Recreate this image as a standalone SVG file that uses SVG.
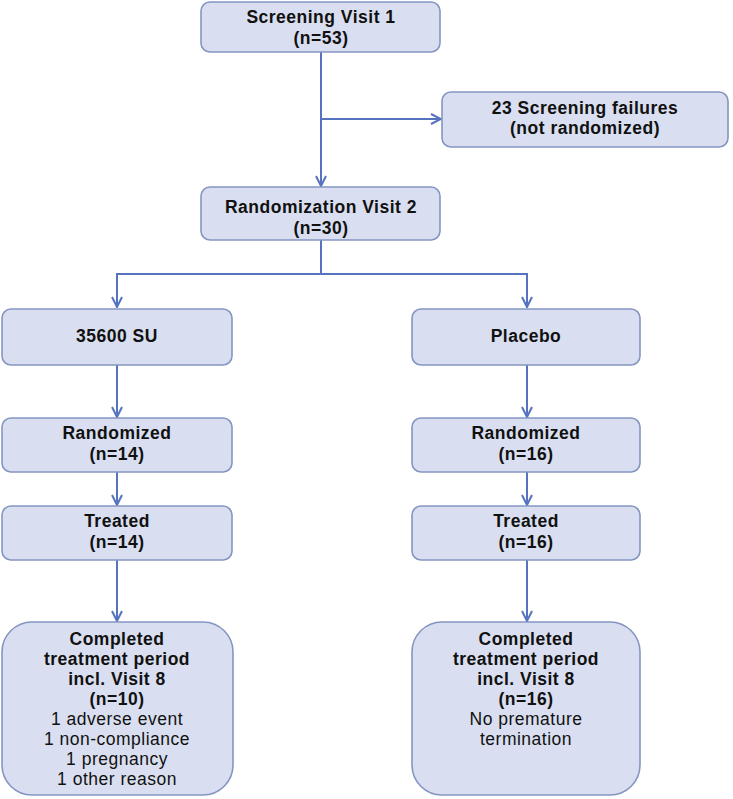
<svg xmlns="http://www.w3.org/2000/svg" width="733" height="799" viewBox="0 0 733 799">
<style>
.box{fill:#d9dff0;stroke:#8595c2;stroke-width:1.6}
.t{font-family:"Liberation Sans",Arial,sans-serif;font-weight:bold;font-size:17.5px;fill:#111;text-anchor:middle;letter-spacing:0.5px}
.n{font-weight:normal}
.c{fill:none;stroke:#5673c0;stroke-width:2}
</style>
<defs>
<marker id="ah" viewBox="0 0 12 12" refX="11" refY="6" markerWidth="12" markerHeight="12" markerUnits="userSpaceOnUse" orient="auto">
<polyline points="1,1 11,6 1,11" fill="none" stroke="#5673c0" stroke-width="2"/>
</marker>
</defs>
<g id="connectors">
<line class="c" x1="321" y1="52" x2="321" y2="186" marker-end="url(#ah)"/>
<line class="c" x1="321" y1="119" x2="441" y2="119" marker-end="url(#ah)"/>
<polyline class="c" points="321,240 321,274 117,274 117,307" marker-end="url(#ah)"/>
<polyline class="c" points="321,274 527,274 527,307" marker-end="url(#ah)"/>
<line class="c" x1="117" y1="365" x2="117" y2="417" marker-end="url(#ah)"/>
<line class="c" x1="527" y1="365" x2="527" y2="417" marker-end="url(#ah)"/>
<line class="c" x1="117" y1="472" x2="117" y2="505" marker-end="url(#ah)"/>
<line class="c" x1="527" y1="472" x2="527" y2="505" marker-end="url(#ah)"/>
<line class="c" x1="117" y1="560" x2="117" y2="621" marker-end="url(#ah)"/>
<line class="c" x1="527" y1="560" x2="527" y2="621" marker-end="url(#ah)"/>
</g>
<g id="screening">
<rect class="box" x="201" y="2" width="239" height="50" rx="9"/>
<text class="t" x="321" y="23">Screening Visit 1</text>
<text class="t" x="321" y="44">(n=53)</text>
</g>
<g id="failures">
<rect class="box" x="442" y="92" width="286" height="55" rx="9"/>
<text class="t" x="585" y="114">23 Screening failures</text>
<text class="t" x="585" y="134">(not randomized)</text>
</g>
<g id="randomization">
<rect class="box" x="201" y="187" width="239" height="53" rx="9"/>
<text class="t" x="321" y="213">Randomization Visit 2</text>
<text class="t" x="321" y="234">(n=30)</text>
</g>
<g id="arm-su">
<rect class="box" x="2" y="309" width="230" height="56" rx="9"/>
<text class="t" x="117" y="342">35600 SU</text>
</g>
<g id="arm-placebo">
<rect class="box" x="412" y="309" width="228" height="56" rx="9"/>
<text class="t" x="526" y="342">Placebo</text>
</g>
<g id="rand-su">
<rect class="box" x="2" y="418" width="230" height="54" rx="9"/>
<text class="t" x="117" y="439">Randomized</text>
<text class="t" x="117" y="460">(n=14)</text>
</g>
<g id="rand-placebo">
<rect class="box" x="412" y="418" width="228" height="54" rx="9"/>
<text class="t" x="526" y="439">Randomized</text>
<text class="t" x="526" y="460">(n=16)</text>
</g>
<g id="treated-su">
<rect class="box" x="2" y="506" width="230" height="54" rx="9"/>
<text class="t" x="117" y="527">Treated</text>
<text class="t" x="117" y="548">(n=14)</text>
</g>
<g id="treated-placebo">
<rect class="box" x="412" y="506" width="228" height="54" rx="9"/>
<text class="t" x="526" y="527">Treated</text>
<text class="t" x="526" y="548">(n=16)</text>
</g>
<g id="completed-su">
<rect class="box" x="2" y="622" width="231" height="173" rx="30"/>
<text class="t" x="117" y="645">Completed</text>
<text class="t" x="117" y="665">treatment period</text>
<text class="t" x="117" y="685">incl. Visit 8</text>
<text class="t" x="117" y="705">(n=10)</text>
<text class="t n" x="117" y="725">1 adverse event</text>
<text class="t n" x="117" y="745">1 non-compliance</text>
<text class="t n" x="117" y="765">1 pregnancy</text>
<text class="t n" x="117" y="785">1 other reason</text>
</g>
<g id="completed-placebo">
<rect class="box" x="412" y="622" width="228" height="173" rx="30"/>
<text class="t" x="526" y="645">Completed</text>
<text class="t" x="526" y="665">treatment period</text>
<text class="t" x="526" y="685">incl. Visit 8</text>
<text class="t" x="526" y="705">(n=16)</text>
<text class="t n" x="526" y="725">No premature</text>
<text class="t n" x="526" y="745">termination</text>
</g>
</svg>
